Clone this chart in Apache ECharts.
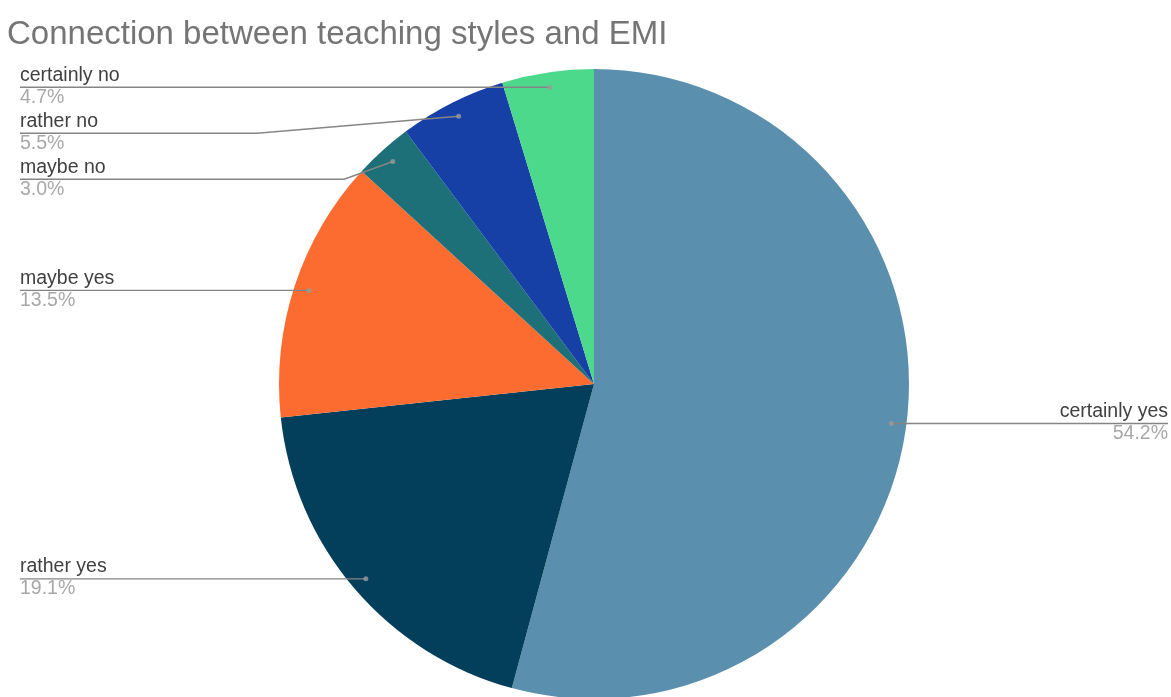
<!DOCTYPE html>
<html>
<head>
<meta charset="utf-8">
<style>
  html, body { margin: 0; padding: 0; background: #fff; }
  #chart { width: 1171px; height: 697px; }
</style>
<script src="https://cdn.jsdelivr.net/npm/echarts@6/dist/echarts.min.js"></script>
</head>
<body>
<div id="chart"></div>
<script>
const title = 'Connection between teaching styles and EMI';
const categories = ['certainly yes', 'rather yes', 'maybe yes', 'maybe no', 'rather no', 'certainly no'];
const shares = [54.2, 19.1, 13.5, 3.0, 5.5, 4.7];
const colors = ['#5a90ad', '#033f5b', '#fc6c31', '#1d6f78', '#1740a6', '#4cd98b'];

const font = '"Liberation Sans", Arial, sans-serif';
const center = [594, 384];
const pieR = 315;
const anchorR = 300;     // where the leader lines start, inside the slices
const labelW = 140;

// mid angle of every slice, in percent of the turn, for the little anchor dots
let acc = 0;
const mids = shares.map((v) => {
  const m = acc + v / 2;
  acc += v;
  return m;
});

const pieData = categories.map((name, i) => ({ name, value: shares[i], itemStyle: { color: colors[i] } }));

const chart = echarts.init(document.getElementById('chart'));
chart.setOption({
  backgroundColor: '#fff',
  animation: false,
  title: {
    text: title,
    left: 7,
    top: 18,
    padding: 0,
    textStyle: { fontFamily: font, fontSize: 33, fontWeight: 'normal', color: '#757575' },
  },
  polar: { center, radius: pieR },
  angleAxis: { type: 'value', min: 0, max: 100, startAngle: 90, clockwise: true, show: false },
  radiusAxis: { type: 'value', min: 0, max: pieR, show: false },
  series: [
    {
      type: 'pie',
      left: 17, right: 0, top: 0, bottom: 0,
      center: [center[0] - 17, center[1]],
      radius: [0, pieR],
      startAngle: 90,
      clockwise: true,
      silent: true,
      label: { show: false },
      labelLine: { show: false },
      itemStyle: { borderWidth: 0 },
      data: pieData,
      z: 1,
    },
    {
      // transparent copy that only carries the labels and leader lines
      type: 'pie',
      left: 17, right: 0, top: 0, bottom: 0,
      center: [center[0] - 17, center[1]],
      radius: [0, anchorR],
      startAngle: 90,
      clockwise: true,
      silent: true,
      avoidLabelOverlap: true,
      itemStyle: { color: 'rgba(0,0,0,0)', borderWidth: 0 },
      label: {
        show: true,
        position: 'outside',
        alignTo: 'edge',
        edgeDistance: 3,
        distanceToLabelLine: -labelW,
        width: labelW,
        backgroundColor: 'transparent',   // keeps the label box at labelW wide
        fontFamily: font,
        formatter: (p) => `{n|${p.name}}\n{p|${p.value.toFixed(1)}%}`,
        rich: {
          n: { fontFamily: font, fontSize: 19.5, color: '#404040', lineHeight: 20 },
          p: { fontFamily: font, fontSize: 19.5, color: '#a8a8a8', lineHeight: 24 },
        },
      },
      labelLine: {
        show: true,
        length: 0,
        length2: 10,
        maxSurfaceAngle: 68,
        lineStyle: { color: '#858585', width: 1.4 },
      },
      data: categories.map((name, i) => ({ name, value: shares[i] })),
      z: 3,
    },
    {
      type: 'scatter',
      coordinateSystem: 'polar',
      silent: true,
      symbolSize: 5,
      itemStyle: { color: '#9a9a9a' },
      data: mids.map((m) => [anchorR, m]),
      z: 4,
    },
  ],
});
</script>
</body>
</html>
